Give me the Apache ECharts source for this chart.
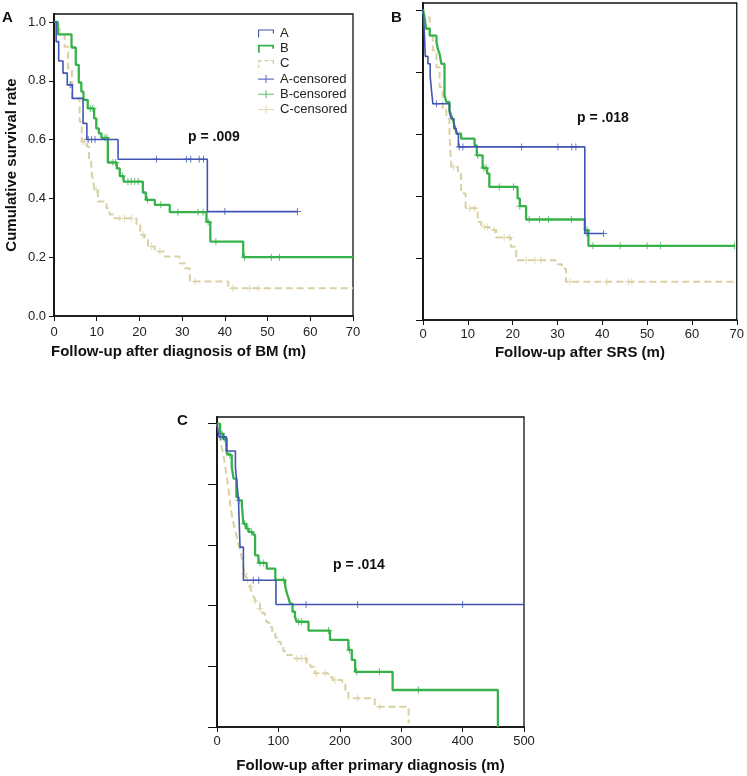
<!DOCTYPE html>
<html>
<head>
<meta charset="utf-8">
<script src="https://cdn.jsdelivr.net/npm/echarts@6/dist/echarts.min.js"></script>
<style>
  html, body { margin: 0; padding: 0; background: #fff; }
  #main { width: 747px; height: 776px; }
</style>
</head>
<body>
<div id="main"></div>
<script>
// panel A: follow-up after diagnosis of BM (months, survival)
var bmA = [[0,1],[0.5,0.933],[1.1,0.867],[2.1,0.826],[3.1,0.786],[4.3,0.74],[6.8,0.655],[7.7,0.6],[15,0.533],[35.9,0.355],[57,0.355]];
var bmAcens = [[3.8,0.786],[8.0,0.6],[8.8,0.6],[9.6,0.6],[24,0.533],[31,0.533],[32,0.533],[34,0.533],[35,0.533],[40,0.355],[57,0.355]];
var bmB = [[0,1],[0.9,0.958],[4.1,0.913],[5.1,0.854],[5.8,0.794],[6.4,0.763],[6.9,0.735],[7.9,0.706],[9.4,0.672],[9.9,0.638],[10.5,0.621],[11.1,0.606],[12.6,0.522],[14.7,0.502],[15.4,0.476],[16.3,0.457],[20.8,0.42],[21.5,0.395],[23.6,0.378],[27.1,0.353],[35.7,0.32],[36.6,0.253],[44.3,0.2],[70,0.2]];
var bmBcens = [[8.5,0.706],[9.1,0.706],[11.9,0.606],[12.4,0.606],[13.8,0.522],[14.4,0.522],[16,0.476],[17.3,0.457],[18.1,0.457],[18.9,0.457],[19.7,0.457],[21.9,0.395],[25,0.378],[29,0.353],[33.7,0.353],[34.9,0.353],[36.1,0.32],[37.9,0.253],[44.6,0.2],[50.9,0.2],[52.8,0.2]];
var bmC = [[0,1],[0.7,0.985],[1.3,0.96],[2.5,0.916],[3.3,0.842],[4.2,0.74],[6,0.661],[6.5,0.593],[7.7,0.576],[8.2,0.531],[8.7,0.497],[9.1,0.463],[9.5,0.429],[10.3,0.389],[12.3,0.366],[13,0.345],[14,0.332],[19.3,0.31],[20.2,0.276],[21.2,0.259],[22,0.236],[23.6,0.219],[25.9,0.202],[29.4,0.179],[30.6,0.162],[31.8,0.117],[40.8,0.094],[70,0.094]];
var bmCcens = [[6.8,0.593],[7.2,0.593],[9.9,0.429],[15.4,0.332],[16.5,0.332],[18.1,0.332],[20.8,0.276],[22.8,0.236],[24.8,0.219],[33,0.117],[41.9,0.094],[45.8,0.094],[47.8,0.094]];

// panel B: follow-up after SRS
var srsA = [[0,1],[0.3,0.93],[0.5,0.85],[1.1,0.826],[1.6,0.786],[1.9,0.74],[2.2,0.697],[5.9,0.67],[6.3,0.649],[6.9,0.617],[7.4,0.6],[7.9,0.558],[36.1,0.279],[40.3,0.279]];
var srsAcens = [[3,0.697],[8.1,0.558],[8.9,0.558],[22,0.558],[30.1,0.558],[33.2,0.558],[34.1,0.558],[36.6,0.279],[40.3,0.279]];
var srsB = [[0,1],[0.4,0.971],[0.7,0.939],[1.5,0.917],[3,0.896],[3.3,0.874],[3.7,0.858],[4.1,0.826],[4.8,0.724],[5.2,0.703],[5.9,0.676],[6.3,0.66],[6.7,0.644],[7,0.628],[7.3,0.612],[7.7,0.601],[8.5,0.585],[11.5,0.563],[12,0.531],[13.3,0.49],[14.3,0.472],[14.8,0.429],[21.1,0.392],[21.6,0.367],[23,0.324],[36.1,0.29],[36.9,0.239],[69.5,0.239]];
var srsBcens = [[12.2,0.531],[13.6,0.49],[14.1,0.49],[17,0.429],[20.2,0.429],[21.6,0.367],[23.7,0.324],[26,0.324],[28,0.324],[33.1,0.324],[36.6,0.29],[37.9,0.239],[44,0.239],[50,0.239],[53,0.239],[69.5,0.239]];
var srsC = [[0,1],[0.4,0.976],[1.5,0.923],[2.2,0.869],[3,0.815],[3.7,0.751],[4.4,0.676],[5.2,0.649],[5.9,0.601],[6.3,0.494],[7.8,0.472],[8.5,0.408],[9.5,0.36],[12.2,0.316],[13,0.3],[14.8,0.29],[16.3,0.266],[19.6,0.236],[20.8,0.193],[29.6,0.18],[31,0.166],[31.9,0.123],[70,0.123]];
var srsCcens = [[6.8,0.494],[10.4,0.36],[11.5,0.36],[13.7,0.3],[14.4,0.3],[15.9,0.29],[18.1,0.266],[19.3,0.266],[23,0.193],[25,0.193],[26.3,0.193],[32.8,0.123],[41,0.123],[45.8,0.123],[46.6,0.123]];

// panel C: follow-up after primary diagnosis
var priA = [[0,1],[3,0.957],[15,0.91],[30,0.855],[32.5,0.803],[35,0.748],[37.5,0.593],[43,0.484],[96,0.404],[500,0.404]];
var priAcens = [[5.4,0.957],[11,0.957],[59,0.484],[68,0.484],[145,0.404],[229,0.404],[400,0.404]];
var priB = [[0,1],[5,0.967],[10,0.95],[16,0.901],[19,0.896],[24,0.857],[27,0.819],[31.5,0.758],[35,0.747],[40.5,0.731],[43,0.67],[47.5,0.654],[51.5,0.643],[58.5,0.634],[62,0.566],[67.5,0.541],[81,0.522],[95,0.485],[111,0.465],[114,0.44],[116.5,0.425],[119,0.407],[123,0.38],[127,0.363],[130,0.347],[149,0.318],[184,0.287],[214,0.254],[219.5,0.221],[225,0.182],[286,0.122],[457.5,0]];
var priBcens = [[8,0.967],[12,0.95],[21,0.896],[36,0.747],[45,0.67],[50,0.654],[56,0.643],[70,0.541],[76,0.541],[108,0.485],[133,0.347],[138,0.347],[181.5,0.318],[216,0.254],[227.5,0.182],[264.5,0.182],[328,0.122]];
var priC = [[0,1],[3,0.98],[5,0.956],[8,0.92],[11,0.89],[14,0.85],[16,0.824],[19,0.78],[22,0.725],[25,0.69],[27,0.67],[30,0.645],[32.5,0.626],[35,0.6],[38,0.582],[41,0.55],[43,0.527],[46,0.505],[49,0.484],[52,0.47],[54,0.462],[57,0.44],[60,0.429],[63,0.415],[66,0.407],[70,0.39],[74,0.375],[78,0.36],[81,0.345],[85,0.33],[90,0.31],[95,0.295],[100,0.28],[104,0.265],[108,0.25],[114,0.237],[122,0.226],[146,0.209],[152,0.199],[159,0.177],[181,0.165],[188,0.155],[204,0.148],[209,0.122],[214,0.095],[257,0.067],[312,0.012]];
var priCcens = [[45,0.505],[50,0.484],[55,0.462],[62,0.415],[70,0.39],[130,0.226],[138,0.226],[144,0.226],[162,0.177],[176,0.177],[192,0.155],[229,0.095],[265,0.067]];

var yTicks = [0, 0.2, 0.4, 0.6, 0.8, 1.0];
var pValues = ['p = .009', 'p = .018', 'p = .014'];

var colA = '#4156b2', colB = '#37b24a', colC = '#d9d1a3';
var plus = 'path://M4.3,0 L5.7,0 L5.7,4.3 L10,4.3 L10,5.7 L5.7,5.7 L5.7,10 L4.3,10 L4.3,5.7 L0,5.7 L0,4.3 L4.3,4.3 Z';
var censIcon = 'path://M0,4.3 L20,4.3 L20,5.7 L0,5.7 Z M9.3,0 L10.7,0 L10.7,10 L9.3,10 Z';
var stepIcon = 'path://M0,10 L0,0 L20,0 L20,5 L18.6,5 L18.6,1.4 L1.4,1.4 L1.4,10 Z';
var stepIconBold = 'path://M0,10 L0,0 L20,0 L20,5 L17.8,5 L17.8,2.2 L2.2,2.2 L2.2,10 Z';
var stepIconDash = 'path://M0,10 L0,6 L1.6,6 L1.6,10 Z M0,4 L0,0 L5,0 L5,1.6 L1.6,1.6 L1.6,4 Z M8,0 L13,0 L13,1.6 L8,1.6 Z M16,0 L20,0 L20,5 L18.4,5 L18.4,1.6 L16,1.6 Z';

var grids = [
  { left: 54, top: 14, width: 299, height: 302, ymax: 1.027, xmax: 70, xint: 10 },
  { left: 423, top: 3, width: 315, height: 317, ymax: 1.022, xmax: 70, xint: 10 },
  { left: 217, top: 417, width: 307, height: 310, ymax: 1.022, xmax: 500, xint: 100 }
];
var xNames = ['Follow-up after diagnosis of BM (m)', 'Follow-up after SRS (m)', 'Follow-up after primary diagnosis (m)'];
var xNameGap = [28, 25, 31];
var xLabelMargin = [10, 8, 8];
var yTickLen = [5, 7, 9];

var option = {
  animation: false,
  backgroundColor: '#fff',
  textStyle: { fontFamily: 'Liberation Sans, Arial, sans-serif' },
  grid: grids.map(function (g) {
    return { left: g.left, top: g.top, width: g.width, height: g.height, show: true,
      borderColor: '#111', borderWidth: 1.3, backgroundColor: 'transparent' };
  }),
  xAxis: grids.map(function (g, i) {
    return {
      type: 'value', gridIndex: i, min: 0, max: g.xmax, interval: g.xint,
      name: xNames[i], nameLocation: 'middle', nameGap: xNameGap[i],
      nameTextStyle: { fontWeight: 'bold', fontSize: 15, color: '#111',
        padding: i === 0 ? [0, 50, 0, 0] : 0 },
      axisLine: { lineStyle: { color: '#111', width: 1.5 } },
      axisTick: { inside: false, length: 5, lineStyle: { color: '#111' } },
      axisLabel: { fontSize: 13, color: '#222', margin: xLabelMargin[i] },
      splitLine: { show: false }
    };
  }),
  yAxis: grids.map(function (g, i) {
    return {
      type: 'value', gridIndex: i, min: 0, max: g.ymax,
      name: i === 0 ? 'Cumulative survival rate' : '',
      nameLocation: 'middle', nameGap: 35,
      nameTextStyle: { fontWeight: 'bold', fontSize: 15, color: '#111' },
      axisLine: { show: true, lineStyle: { color: '#111', width: 1.8 } },
      axisTick: { show: true, inside: false, length: yTickLen[i], customValues: yTicks, lineStyle: { color: '#111' } },
      axisLabel: { show: i === 0, fontSize: 13, color: '#222', margin: 8, customValues: yTicks,
        formatter: function (v) { return v.toFixed(1); } },
      splitLine: { show: false }
    };
  }),
  legend: {
    orient: 'vertical', left: 258, top: 27, padding: 0,
    itemWidth: 18, itemHeight: 8, itemGap: 2.2,
    textStyle: { fontSize: 13, color: '#222', lineHeight: 13 },
    data: [
      { name: 'A', icon: stepIcon },
      { name: 'B', icon: stepIconBold },
      { name: 'C', icon: stepIconDash },
      { name: 'A-censored', icon: censIcon },
      { name: 'B-censored', icon: censIcon },
      { name: 'C-censored', icon: censIcon }
    ]
  },
  graphic: [
    { type: 'text', left: 2, top: 10, style: { text: 'A', font: 'bold 15px Liberation Sans', fill: '#111' } },
    { type: 'text', left: 391, top: 10, style: { text: 'B', font: 'bold 15px Liberation Sans', fill: '#111' } },
    { type: 'text', left: 177, top: 413, style: { text: 'C', font: 'bold 15px Liberation Sans', fill: '#111' } },
    { type: 'text', left: 188, top: 130, style: { text: pValues[0], font: 'bold 14px Liberation Sans', fill: '#111' } },
    { type: 'text', left: 577, top: 111, style: { text: pValues[1], font: 'bold 14px Liberation Sans', fill: '#111' } },
    { type: 'text', left: 333, top: 558, style: { text: pValues[2], font: 'bold 14px Liberation Sans', fill: '#111' } }
  ],
  series: []
};

var panels = [
  [bmA, bmAcens, bmB, bmBcens, bmC, bmCcens],
  [srsA, srsAcens, srsB, srsBcens, srsC, srsCcens],
  [priA, priAcens, priB, priBcens, priC, priCcens]
];

panels.forEach(function (p, i) {
  option.series.push(
    { name: 'C', type: 'line', step: 'end', xAxisIndex: i, yAxisIndex: i, data: p[4], showSymbol: false,
      lineStyle: { color: colC, width: 2, type: [7, 4] }, itemStyle: { color: colC }, z: 2 },
    { name: 'C-censored', type: 'scatter', xAxisIndex: i, yAxisIndex: i, data: p[5], symbol: plus, symbolSize: 7,
      itemStyle: { color: colC }, z: 2 },
    { name: 'B', type: 'line', step: 'end', xAxisIndex: i, yAxisIndex: i, data: p[2], showSymbol: false,
      lineStyle: { color: colB, width: 2.3 }, itemStyle: { color: colB }, z: 3 },
    { name: 'B-censored', type: 'scatter', xAxisIndex: i, yAxisIndex: i, data: p[3], symbol: plus, symbolSize: 7,
      itemStyle: { color: colB }, z: 3 },
    { name: 'A', type: 'line', step: 'end', xAxisIndex: i, yAxisIndex: i, data: p[0], showSymbol: false,
      lineStyle: { color: colA, width: 1.6 }, itemStyle: { color: colA }, z: 4 },
    { name: 'A-censored', type: 'scatter', xAxisIndex: i, yAxisIndex: i, data: p[1], symbol: plus, symbolSize: 7,
      itemStyle: { color: colA }, z: 4 }
  );
});

var chart = echarts.init(document.getElementById('main'));
chart.setOption(option);
</script>
</body>
</html>
